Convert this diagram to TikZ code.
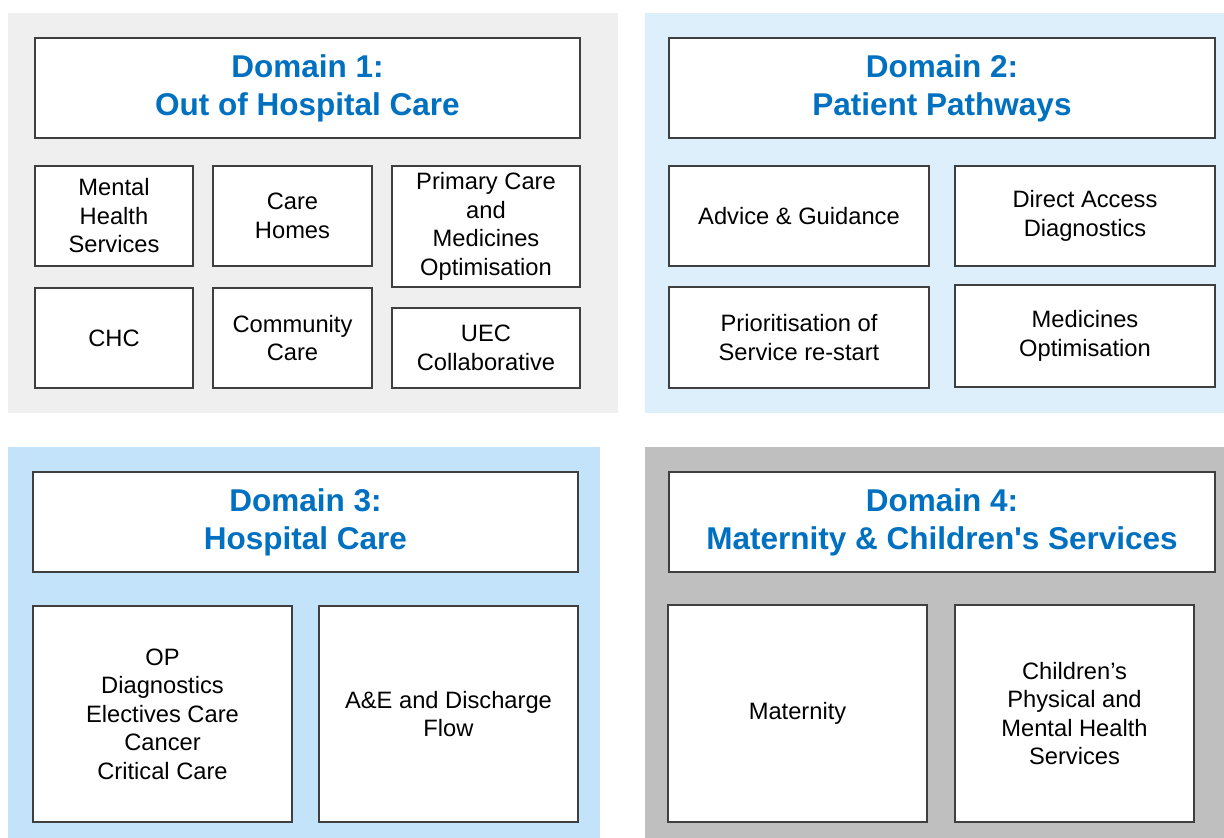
\documentclass[tikz,border=0pt]{standalone}
\usepackage{fontspec}
\setmainfont{Liberation Sans}
\definecolor{greypanel}{HTML}{EFEFEF}
\definecolor{palebluepanel}{HTML}{DEEFFC}
\definecolor{bluepanel}{HTML}{C3E3FA}
\definecolor{darkgreypanel}{HTML}{BFBFBF}
\definecolor{boxline}{HTML}{3F3F3F}
\definecolor{domainblue}{HTML}{0070C0}

\begin{document}
\begin{tikzpicture}[x=1pt, y=-1pt,
	box/.style={draw=boxline, fill=white, line width=1.2pt, inner sep=0pt, align=center,
		font=\fontsize{23.7}{28.5}\selectfont},
	headbox/.style={box, text=domainblue, font=\fontsize{31.5}{38}\selectfont\bfseries}]
	\useasboundingbox (0,0) rectangle (1224,838);
	% background panels, one per domain
	\fill[greypanel] (8,13) rectangle (618,413);
	\fill[palebluepanel] (645,13) rectangle (1224,413);
	\fill[bluepanel] (8,447) rectangle (600,838);
	\fill[darkgreypanel] (645,447) rectangle (1224,838);
	% domain headings
	\foreach \n/\xa/\ya/\xb/\yb/\t in {
		domA/35/38/580/138/{Domain 1:\\Out of Hospital Care},
		domB/669/38/1215/138/{Domain 2:\\Patient Pathways},
		domC/33/472/578/572/{Domain 3:\\Hospital Care},
		domD/669/472/1215/572/{Domain 4:\\Maternity \& Children\textquotesingle s Services}} {
		\node[headbox, minimum width=\xb-\xa, minimum height=\yb-\ya] (\n) at ({(\xa+\xb)/2},{(\ya+\yb)/2}) {\t};
	}
	% work streams under each heading
	\foreach \n/\xa/\ya/\xb/\yb/\t in {
		mentalhealth/35/166/193/266/{Mental\\Health\\Services},
		carehomes/213/166/372/266/{Care\\Homes},
		primarycare/392/166/580/287/{Primary Care\\and\\Medicines\\Optimisation},
		chc/35/288/193/388/{CHC},
		community/213/288/372/388/{Community\\Care},
		uec/392/308/580/388/{UEC\\Collaborative},
		advice/669/166/929/266/{Advice \& Guidance},
		directaccess/955/166/1215/266/{Direct Access\\Diagnostics},
		restart/669/287/929/388/{Prioritisation of\\Service re-start},
		medicines/955/285/1215/387/{Medicines\\Optimisation},
		planned/33/606/292/822/{OP\\Diagnostics\\Electives Care\\Cancer\\Critical Care},
		flow/319/606/578/822/{A\&E and Discharge\\Flow},
		maternity/668/605/927/822/{Maternity},
		children/955/605/1194/822/{Children’s\\Physical and\\Mental Health\\Services}} {
		\node[box, minimum width=\xb-\xa, minimum height=\yb-\ya] (\n) at ({(\xa+\xb)/2},{(\ya+\yb)/2}) {\t};
	}
\end{tikzpicture}
\end{document}
